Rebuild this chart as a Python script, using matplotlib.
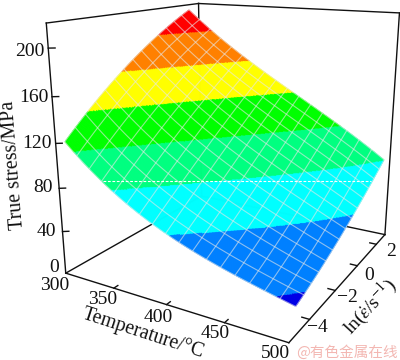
import numpy as np
import matplotlib
matplotlib.use("Agg")
import matplotlib.pyplot as plt
from matplotlib.lines import Line2D
from numpy.polynomial import polynomial as P

plt.rcParams['font.family'] = ['Liberation Serif', 'DejaVu Serif']
plt.rcParams['mathtext.fontset'] = 'stix'

# stress, rows are temperature, columns are ln(strain rate)
temps = [300, 350, 400, 450, 500]
ln_rates = [-5.0, -3.0, -1.0, 1.0, 2.3]
stress = [
    [119, 152, 181, 202, 215],
    [80, 110, 140, 162, 178],
    [55, 80, 107, 130, 146],
    [37, 56, 79, 101, 117],
    [24.5, 37, 53, 71, 84],
]
levels = [28, 55.7, 83.4, 111, 138.7, 166.4, 194]
band_colors = ['#0000e6', '#0080ff', '#00ffff', '#00ff80', '#00ff00', '#ffff00', '#ff8000', '#ff0000']

temp_ticks = [300, 350, 400, 450, 500]
rate_ticks = [-4, -2, 0, 2]
stress_ticks = [0, 40, 80, 120, 160, 200]

T_MIN, T_MAX = 300, 500
E_MIN, E_MAX = -5.4, 3
Z_MIN, Z_MAX = 0, 220

fig = plt.figure(figsize=(4, 3.6), dpi=100)
ax = fig.add_axes([24 / 400, (360 - 352.2) / 360, 411.2 / 400, 411.2 / 360], projection='3d', computed_zorder=False)
ax.view_init(elev=16.06, azim=-59.93, roll=0.06)
ax.set_proj_type('persp', focal_length=0.303)
ax.set_box_aspect((0.996, 1.011, 1))
ax.set_xlim(T_MIN, T_MAX)
ax.set_ylim(E_MIN, E_MAX)
ax.set_zlim(Z_MIN, Z_MAX)
ax.set_axis_off()

# smooth surface through the read values
t_grid, e_grid = np.meshgrid(temps, ln_rates, indexing='ij')
scale_t = lambda t: (np.asarray(t) - 400) / 100
scale_e = lambda e: (np.asarray(e) + 1.35) / 3.65
vander = P.polyvander2d(scale_t(t_grid).ravel(), scale_e(e_grid).ravel(), [3, 3])
coef = np.linalg.lstsq(vander, np.array(stress, float).ravel(), rcond=None)[0].reshape(4, 4)


def surface(t, e):
    return P.polyval2d(scale_t(t), scale_e(e), coef)


# box behind the surface
box_back = [((T_MIN, E_MAX, Z_MIN), (T_MIN, E_MAX, Z_MAX)), ((T_MIN, E_MAX, Z_MAX), (T_MIN, E_MIN, Z_MAX)),
            ((T_MIN, E_MAX, Z_MAX), (T_MAX, E_MAX, Z_MAX)), ((T_MAX, E_MAX, Z_MAX), (T_MAX, E_MAX, Z_MIN)),
            ((T_MAX, E_MAX, Z_MIN), (T_MIN, E_MAX, Z_MIN)), ((T_MIN, E_MAX, Z_MIN), (T_MIN, E_MIN, Z_MIN))]
for a, b in box_back:
    ax.plot(*zip(a, b), color='#111111', lw=1.0, zorder=1)

tt, ee = np.meshgrid(np.linspace(T_MIN, T_MAX, 241), np.linspace(ln_rates[0], ln_rates[-1], 241), indexing='ij')
zz = surface(tt, ee)
zc = (zz[:-1, :-1] + zz[1:, :-1] + zz[:-1, 1:] + zz[1:, 1:]) / 4
face = np.array(matplotlib.colors.to_rgba_array(band_colors))[np.digitize(zc, levels)]
ax.plot_surface(tt, ee, zz, facecolors=face, rstride=1, cstride=1, shade=False, linewidth=0.4,
                antialiased=True, zorder=2)

# mesh lines on the surface
fine_t = np.linspace(T_MIN, T_MAX, 60)
fine_e = np.linspace(ln_rates[0], ln_rates[-1], 60)
for t in np.linspace(T_MIN, T_MAX, 18):
    ax.plot(np.full(60, t), fine_e, surface(np.full(60, t), fine_e), color='#e8e8e8', alpha=0.6, lw=0.8, zorder=3)
for e in np.linspace(ln_rates[0], ln_rates[-1], 15):
    ax.plot(fine_t, np.full(60, e), surface(fine_t, np.full(60, e)), color='#e8e8e8', alpha=0.6, lw=0.8, zorder=3)

# front axes lines and ticks
for a, b in [((T_MIN, E_MIN, Z_MIN), (T_MIN, E_MIN, Z_MAX)), ((T_MIN, E_MIN, Z_MIN), (T_MAX, E_MIN, Z_MIN)),
             ((T_MAX, E_MIN, Z_MIN), (T_MAX, E_MAX, Z_MIN))]:
    ax.plot(*zip(a, b), color='#111111', lw=1.0, zorder=4)
for z in stress_ticks[1:]:
    ax.plot([T_MIN, T_MIN + 4], [E_MIN, E_MIN + 0.12], [z, z], color='#111111', lw=1.0, zorder=4)
for t in temp_ticks[1:-1]:
    ax.plot([t, t], [E_MIN, E_MIN + 0.2], [0, 0], color='#111111', lw=1.0, zorder=4)
for e in rate_ticks:
    ax.plot([T_MAX, T_MAX - 6], [e, e], [0, 0], color='#111111', lw=1.0, zorder=4)


def put(x, y, s, **kw):
    fig.text(x / 400, 1 - y / 360, s, color='#111111', **kw)


stress_pos = [(59, 268), (56, 232), (53, 187), (52, 144), (49, 97), (45, 51)]
for v, (x, y) in zip(stress_ticks, stress_pos):
    put(x, y, str(v), fontsize=14, ha='right', va='center')
temp_pos = [(55, 285), (103, 299), (158, 317), (215, 333), (275, 353)]
for v, (x, y) in zip(temp_ticks, temp_pos):
    put(x, y, str(v), fontsize=14, ha='center', va='center')
rate_pos = [(317, 327), (347, 298), (369, 275), (391, 252)]
for v, (x, y) in zip(rate_ticks, rate_pos):
    put(x, y, str(v).replace('-', '\u2212'), fontsize=14, ha='center', va='center')

put(13, 165, 'True stress/MPa', fontsize=14.3, rotation=94.5, ha='center', va='center', rotation_mode='anchor')
put(143, 333, 'Temperature/\u00b0C', fontsize=14.3, rotation=-18, ha='center', va='center', rotation_mode='anchor')
put(370, 306, r'ln($\dot{\varepsilon}$/s$^{-1}$)', fontsize=14, rotation=47, ha='center', va='center', rotation_mode='anchor')

# scan artefact across the picture
fig.add_artist(Line2D([103 / 400, 371 / 400], [1 - 180.5 / 360, 1 - 180.5 / 360], color='white', lw=0.8, ls=(0, (2.5, 1.5))))

# watermark
fig.text(398 / 400, 1 - 353 / 360, '@有色金属在线', color='#f3b7b2', fontsize=10.5, ha='right', va='center',
         family=['Noto Sans CJK SC', 'DejaVu Sans'])

fig.savefig('out.png', dpi=100)
